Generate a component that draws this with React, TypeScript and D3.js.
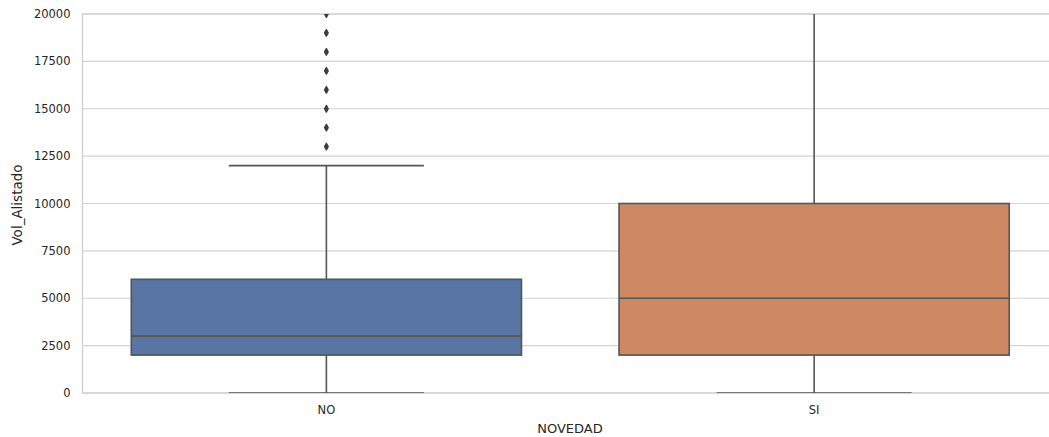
import React from "react";
import * as d3 from "d3";

// Box-plot summary per NOVEDAD group
const categories = ["NO", "SI"];
const colors = ["#5975a4", "#cc8963"];
const q1 = [2000, 2000];
const median = [3000, 5000];
const q3 = [6000, 10000];
const whiskerLow = [0, 0];
const whiskerHigh = [12000, 25000];
const fliersNO = [13000, 14000, 15000, 16000, 17000, 18000, 19000, 20000];
const fliersSI: number[] = [];
const yTicks = [0, 2500, 5000, 7500, 10000, 12500, 15000, 17500, 20000];

const W = 1049;
const H = 437;
const left = 82.5;
const right = 1058;
const top = 14;
const bottom = 393;

export default function App() {
  const x = d3.scaleBand<string>().domain(categories).range([left, right]).padding(0);
  const y = d3.scaleLinear().domain([0, 20000]).range([bottom, top]);
  const bw = x.bandwidth();
  const boxW = bw * 0.8;
  const capW = boxW / 2;
  const lineColor = "#555555";
  const fliers = [fliersNO, fliersSI];
  const font = "DejaVu Sans, sans-serif";

  return (
    <svg
      width={W}
      height={H}
      style={{ position: "absolute", left: 0, top: 0, background: "#fff" }}
    >
      <defs>
        <clipPath id="plotArea">
          <rect x={left} y={top} width={right - left} height={bottom - top} />
        </clipPath>
      </defs>
      {/* horizontal grid */}
      {yTicks.map((t) => (
        <line key={t} x1={left} x2={right} y1={y(t)} y2={y(t)} stroke="#d3d3d3" strokeWidth={1.1} />
      ))}
      {/* spines */}
      <rect x={left} y={top} width={right - left} height={bottom - top} fill="none" stroke="#cfcfcf" strokeWidth={1.3} />

      <g clipPath="url(#plotArea)">
        {categories.map((c, i) => {
          const cx = (x(c) as number) + bw / 2;
          return (
            <g key={c}>
              <line x1={cx} x2={cx} y1={y(q3[i])} y2={y(whiskerHigh[i])} stroke={lineColor} strokeWidth={1.6} />
              <line x1={cx} x2={cx} y1={y(q1[i])} y2={y(whiskerLow[i])} stroke={lineColor} strokeWidth={1.6} />
              <line x1={cx - capW / 2} x2={cx + capW / 2} y1={y(whiskerHigh[i])} y2={y(whiskerHigh[i])} stroke={lineColor} strokeWidth={1.6} />
              <line x1={cx - capW / 2} x2={cx + capW / 2} y1={y(whiskerLow[i])} y2={y(whiskerLow[i])} stroke={lineColor} strokeWidth={1.6} />
              <rect
                x={cx - boxW / 2}
                y={y(q3[i])}
                width={boxW}
                height={y(q1[i]) - y(q3[i])}
                fill={colors[i]}
                stroke={lineColor}
                strokeWidth={1.6}
              />
              <line x1={cx - boxW / 2} x2={cx + boxW / 2} y1={y(median[i])} y2={y(median[i])} stroke={lineColor} strokeWidth={1.6} />
              {fliers[i].map((v, k) => {
                const py = y(v);
                return (
                  <path
                    key={k}
                    d={`M${cx},${py - 3.3} L${cx + 1.8},${py} L${cx},${py + 3.3} L${cx - 1.8},${py} Z`}
                    fill="#3d3d3d"
                    stroke="#3d3d3d"
                    strokeWidth={1.4}
                    strokeLinejoin="round"
                  />
                );
              })}
            </g>
          );
        })}
      </g>

      {/* y tick labels */}
      {yTicks.map((t) => (
        <text
          key={t}
          x={70.5}
          y={y(t)}
          textAnchor="end"
          dominantBaseline="central"
          fontFamily={font}
          fontSize={11.5}
          fill="#262626"
        >
          {t}
        </text>
      ))}
      {/* x tick labels */}
      {categories.map((c) => (
        <text
          key={c}
          x={(x(c) as number) + bw / 2}
          y={410}
          textAnchor="middle"
          dominantBaseline="central"
          fontFamily={font}
          fontSize={11.5}
          fill="#262626"
        >
          {c}
        </text>
      ))}
      <text x={570} y={428} textAnchor="middle" dominantBaseline="central" fontFamily={font} fontSize={13} fill="#262626">
        NOVEDAD
      </text>
      <text
        transform={`translate(17,205) rotate(-90)`}
        textAnchor="middle"
        dominantBaseline="central"
        fontFamily={font}
        fontSize={13.5}
        fill="#262626"
      >
        Vol_Alistado
      </text>
    </svg>
  );
}
